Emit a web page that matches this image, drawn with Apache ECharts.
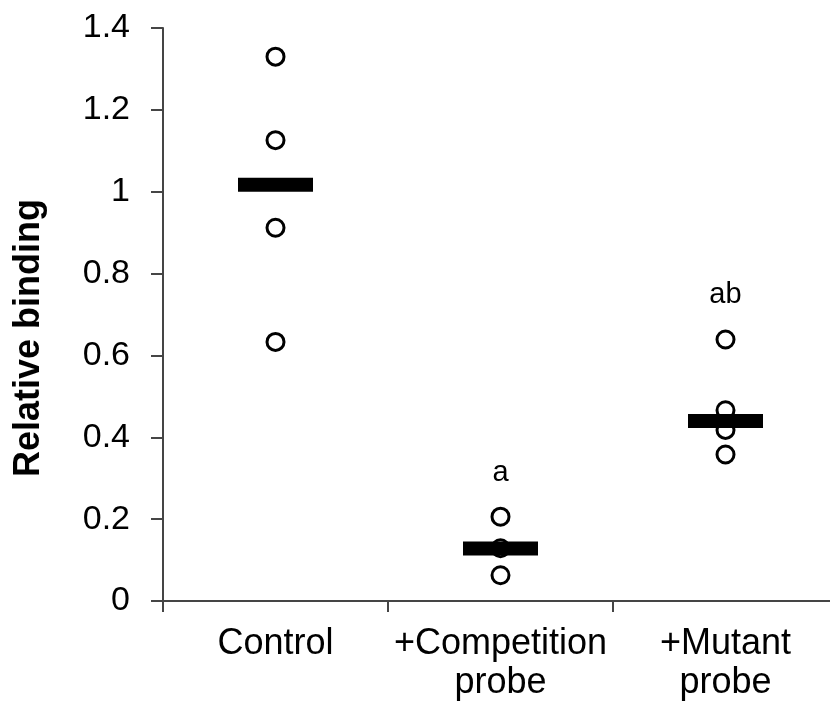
<!DOCTYPE html>
<html>
<head>
<meta charset="utf-8">
<script src="https://cdn.jsdelivr.net/npm/echarts@6/dist/echarts.min.js"></script>
<style>
  html, body { margin: 0; padding: 0; background: #fff; }
  #chart { width: 830px; height: 706px; }
</style>
</head>
<body>
<div id="chart"></div>
<script>
// ---- data ----
var categories = ['Control', '+Competition\nprobe', '+Mutant\nprobe'];
var controlValues = [1.33, 1.126, 0.912, 0.633];
var competitionValues = [0.206, 0.129, 0.063];
var mutantValues = [0.639, 0.466, 0.418, 0.358];
var medianValues = [1.017, 0.128, 0.440];
var significanceLetters = ['', 'a', 'ab'];
var yTicks = [0, 0.2, 0.4, 0.6, 0.8, 1, 1.2, 1.4];
var yAxisTitle = 'Relative binding';

var groups = [controlValues, competitionValues, mutantValues];
var pointData = [];
groups.forEach(function (vals, i) {
  vals.forEach(function (v) { pointData.push([i, v]); });
});
var medianData = medianValues.map(function (v, i) { return [i, v]; });
var letterData = groups.map(function (vals, i) {
  return { value: [i, Math.max.apply(null, vals)], letter: significanceLetters[i] };
});

var FONT = 'Liberation Sans, Arial, sans-serif';
var chart = echarts.init(document.getElementById('chart'), null, { renderer: 'canvas' });
chart.setOption({
  animation: false,
  backgroundColor: '#fff',
  grid: { left: 163, top: 28, width: 675, bottom: 105, containLabel: false, outerBoundsMode: 'none' },
  xAxis: {
    type: 'category',
    data: categories,
    boundaryGap: true,
    axisLine: { lineStyle: { color: '#454545', width: 2 } },
    axisTick: { show: true, length: 11, alignWithLabel: false, lineStyle: { color: '#454545', width: 2 } },
    axisLabel: { interval: 0, color: '#000', fontSize: 36, lineHeight: 39, fontFamily: FONT, margin: 24 },
    splitLine: { show: false }
  },
  yAxis: {
    type: 'value',
    min: yTicks[0],
    max: yTicks[yTicks.length - 1],
    interval: 0.2,
    axisLine: { show: true, lineStyle: { color: '#454545', width: 2 } },
    axisTick: { show: true, length: 12, lineStyle: { color: '#454545', width: 2 } },
    axisLabel: { color: '#000', fontSize: 34, fontFamily: FONT, margin: 33,
      formatter: function (v) { return String(Math.round(v * 10) / 10); } },
    splitLine: { show: false }
  },
  graphic: [{
    type: 'text',
    x: 29, y: 338,
    rotation: Math.PI / 2,
    style: {
      text: yAxisTitle,
      font: 'bold 36px ' + FONT,
      fill: '#000',
      textAlign: 'center',
      textVerticalAlign: 'middle'
    }
  }],
  series: [
    {
      type: 'scatter',
      data: pointData,
      symbol: 'circle',
      symbolSize: 17,
      itemStyle: { color: '#fff', borderColor: '#000', borderWidth: 3, opacity: 1 },
      z: 2
    },
    {
      type: 'scatter',
      data: medianData,
      symbol: 'rect',
      symbolSize: [75, 14],
      itemStyle: { color: '#000', opacity: 1 },
      z: 3
    },
    {
      type: 'scatter',
      data: letterData,
      symbol: 'circle',
      symbolSize: 17,
      itemStyle: { color: 'rgba(0,0,0,0)', borderWidth: 0 },
      label: {
        show: true,
        position: 'top',
        distance: 21,
        color: '#000',
        opacity: 1,
        fontSize: 29,
        fontFamily: FONT,
        formatter: function (p) { return p.data.letter; }
      },
      silent: true,
      z: 4
    }
  ]
});
</script>
</body>
</html>
